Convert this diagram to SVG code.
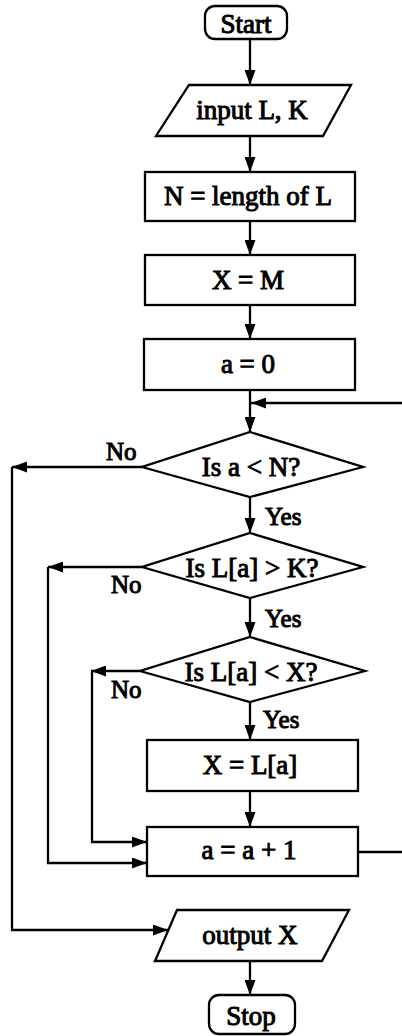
<svg xmlns="http://www.w3.org/2000/svg" width="402" height="1036" viewBox="0 0 402 1036">
<style>
.s{fill:#fff;stroke:#000;stroke-width:2.3}
.t{font-family:"Liberation Serif","Times New Roman",serif;font-size:27px;fill:#000;stroke:#000;stroke-width:1;text-anchor:middle}
.l{font-family:"Liberation Serif","Times New Roman",serif;font-size:25px;fill:#000;stroke:#000;stroke-width:1}
.c{fill:none;stroke:#000;stroke-width:2.3}
</style>
<defs>
<marker id="ah" markerUnits="userSpaceOnUse" markerWidth="15" markerHeight="11" refX="15" refY="5.5" orient="auto">
<path d="M0,0 L15,5.5 L0,11 z" fill="#000"/>
</marker>
</defs>
<rect width="402" height="1036" fill="#fff"/>
<g id="connectors">
<line class="c" x1="250" y1="39" x2="250" y2="85" marker-end="url(#ah)"/>
<line class="c" x1="250" y1="136" x2="250" y2="172" marker-end="url(#ah)"/>
<line class="c" x1="250" y1="221" x2="250" y2="255" marker-end="url(#ah)"/>
<line class="c" x1="250" y1="305" x2="250" y2="339" marker-end="url(#ah)"/>
<line class="c" x1="250" y1="390" x2="250" y2="432" marker-end="url(#ah)"/>
<line class="c" x1="402" y1="403" x2="251" y2="403" marker-end="url(#ah)"/>
<line class="c" x1="250" y1="497" x2="250" y2="533" marker-end="url(#ah)"/>
<line class="c" x1="250" y1="598" x2="250" y2="637" marker-end="url(#ah)"/>
<line class="c" x1="250" y1="702" x2="250" y2="740" marker-end="url(#ah)"/>
<line class="c" x1="250" y1="791" x2="250" y2="827" marker-end="url(#ah)"/>
<line class="c" x1="250" y1="961" x2="250" y2="995" marker-end="url(#ah)"/>
<line class="c" x1="142" y1="467" x2="12" y2="467" marker-end="url(#ah)"/>
<polyline class="c" points="12,467 12,930 168,930" marker-end="url(#ah)"/>
<line class="c" x1="142" y1="567" x2="48" y2="567" marker-end="url(#ah)"/>
<polyline class="c" points="48,567 48,863 147,863" marker-end="url(#ah)"/>
<line class="c" x1="140" y1="671" x2="91" y2="671" marker-end="url(#ah)"/>
<polyline class="c" points="92,671 92,842 147,842" marker-end="url(#ah)"/>
<line class="c" x1="357" y1="852" x2="402" y2="852"/>
</g>
<g id="start">
<rect class="s" x="205" y="6" width="82" height="33" rx="10"/>
<text class="t" x="246" y="33">Start</text>
</g>
<g id="input">
<polygon class="s" points="189,85 351,85 323,136 156,136"/>
<text class="t" x="252" y="119">input L, K</text>
</g>
<g id="n-length">
<rect class="s" x="145" y="172" width="210" height="49"/>
<text class="t" x="248" y="205">N = length of L</text>
</g>
<g id="x-m">
<rect class="s" x="145" y="255" width="210" height="50"/>
<text class="t" x="248" y="289">X = M</text>
</g>
<g id="a-zero">
<rect class="s" x="144" y="339" width="211" height="51"/>
<text class="t" x="248" y="373">a = 0</text>
</g>
<g id="dec-a-n">
<polygon class="s" points="250,432 363,467 250,497 142,467"/>
<text class="t" x="251" y="476">Is a &lt; N?</text>
</g>
<g id="dec-la-k">
<polygon class="s" points="250,533 363,567 250,598 142,567"/>
<text class="t" x="252" y="577">Is L[a] &gt; K?</text>
</g>
<g id="dec-la-x">
<polygon class="s" points="250,637 365,671 250,702 140,671"/>
<text class="t" x="251" y="681">Is L[a] &lt; X?</text>
</g>
<g id="x-la">
<rect class="s" x="147" y="740" width="211" height="51"/>
<text class="t" x="250" y="774">X = L[a]</text>
</g>
<g id="a-inc">
<rect class="s" x="147" y="827" width="211" height="49"/>
<text class="t" x="249" y="859">a = a + 1</text>
</g>
<g id="output">
<polygon class="s" points="177,910 349,910 322,961 155,961"/>
<text class="t" x="250" y="944">output X</text>
</g>
<g id="stop">
<rect class="s" x="209" y="995" width="86" height="39" rx="10"/>
<text class="t" x="251" y="1025">Stop</text>
</g>
<g id="labels">
<text class="l" x="106" y="460">No</text>
<text class="l" x="265" y="525">Yes</text>
<text class="l" x="111" y="593">No</text>
<text class="l" x="265" y="627">Yes</text>
<text class="l" x="111" y="698">No</text>
<text class="l" x="263" y="728">Yes</text>
</g>
</svg>
